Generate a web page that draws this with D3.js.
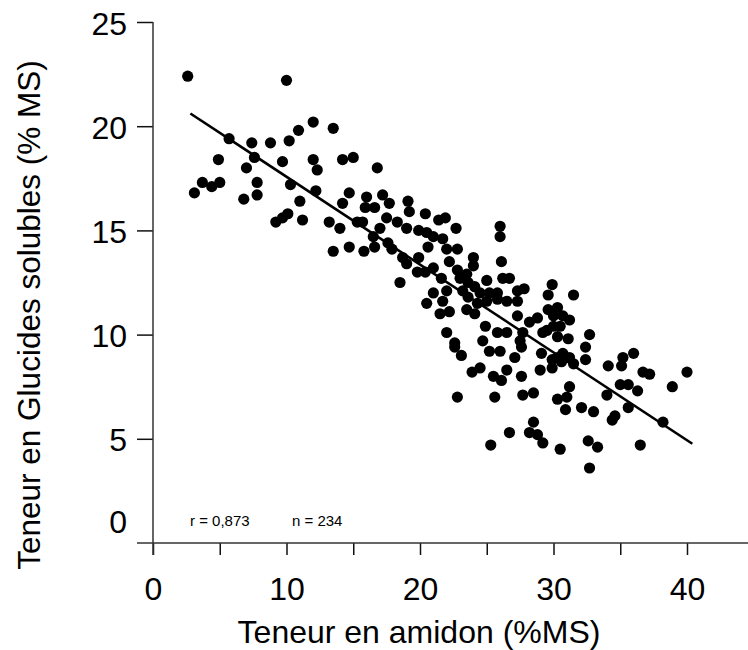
<!DOCTYPE html>
<html>
<head>
<meta charset="utf-8">
<script src="https://cdn.jsdelivr.net/npm/d3@7"></script>
<style>
  body { margin: 0; background: #fff; }
  svg text { font-family: "Liberation Sans", Arial, sans-serif; fill: #000; }
</style>
</head>
<body>
<svg id="chart" width="748" height="650"></svg>
<script>
// starch content (%DM) and soluble sugars (%DM)
const starch = [
  2.6, 10.0, 12.0, 13.5, 10.9, 10.2, 8.8, 7.4, 5.7, 4.9, 7.6, 9.7, 12.0, 12.3, 14.2, 15.0, 7.0, 3.7, 4.4, 5.0,
  3.1, 7.8, 10.3, 6.8, 7.8, 12.2, 14.7, 11.0, 14.2, 16.0, 15.9, 10.1, 9.7, 9.2, 11.2, 13.2, 14.0, 15.3, 15.7, 13.5,
  14.7, 15.8, 16.8, 17.2, 16.6, 17.7, 19.1, 19.2, 20.4, 21.4, 21.9, 22.7, 26.0, 26.0, 17.5, 18.3, 19.0, 19.9, 20.5, 21.0,
  21.7, 17.0, 16.5, 17.6, 16.6, 17.9, 20.6, 22.0, 22.8, 18.7, 19.9, 22.2, 24.0, 24.0, 26.1, 19.0, 19.8, 21.0, 20.4, 21.6,
  22.8, 23.0, 23.5, 23.6, 25.0, 26.2, 26.7, 18.5, 21.0, 22.0, 23.2, 24.1, 24.5, 25.2, 25.8, 27.3, 27.8, 20.5, 21.7, 23.6,
  24.3, 25.0, 25.8, 26.5, 27.3, 21.5, 22.2, 23.5, 24.1, 27.3, 28.8, 28.2, 29.6, 30.3, 22.0, 24.9, 25.8, 26.5, 24.7, 27.5,
  29.2, 30.0, 22.6, 22.6, 23.1, 25.2, 26.0, 27.1, 27.6, 29.1, 29.9, 23.9, 24.5, 25.5, 26.1, 26.5, 27.6, 29.0, 29.9, 22.8,
  25.6, 27.7, 28.5, 30.3, 28.5, 28.2, 28.8, 29.2, 26.7, 25.3, 30.5, 29.9, 29.6, 31.5, 30.0, 30.7, 31.2, 30.5, 29.5, 32.7,
  27.7, 30.3, 31.1, 32.4, 30.3, 30.7, 31.2, 32.4, 31.5, 30.6, 34.1, 35.2, 36.0, 35.1, 36.7, 37.2, 40.0, 38.9, 35.0, 35.6,
  36.3, 34.0, 31.2, 31.0, 30.9, 32.1, 33.0, 34.6, 34.4, 35.6, 38.2, 32.6, 33.3, 36.5, 32.7
];
const sugars = [
  22.4, 22.2, 20.2, 19.9, 19.8, 19.3, 19.2, 19.2, 19.4, 18.4, 18.5, 18.3, 18.4, 17.9, 18.4, 18.5, 18.0, 17.3, 17.1, 17.3,
  16.8, 17.3, 17.2, 16.5, 16.7, 16.9, 16.8, 16.4, 16.3, 16.6, 16.1, 15.8, 15.6, 15.4, 15.5, 15.4, 15.1, 15.4, 15.4, 14.0,
  14.2, 14.0, 18.0, 16.7, 16.1, 16.3, 16.4, 15.9, 15.8, 15.5, 15.6, 15.1, 15.2, 14.7, 15.6, 15.4, 15.1, 15.0, 14.9, 14.7,
  14.6, 15.1, 14.7, 14.4, 14.2, 14.1, 14.2, 14.1, 14.1, 13.7, 13.7, 13.5, 13.7, 13.3, 13.5, 13.4, 13.0, 13.2, 13.0, 12.7,
  13.1, 12.7, 12.9, 12.5, 12.6, 12.7, 12.7, 12.5, 12.0, 12.1, 12.1, 12.3, 12.0, 12.0, 12.0, 12.1, 12.2, 11.5, 11.6, 11.8,
  11.5, 11.6, 11.7, 11.6, 11.6, 11.0, 11.1, 11.2, 11.0, 10.9, 10.8, 10.6, 11.2, 11.3, 10.1, 10.4, 10.1, 10.1, 9.7, 9.7,
  10.1, 10.4, 9.6, 9.4, 9.0, 9.2, 9.2, 8.9, 9.4, 9.1, 8.8, 8.2, 8.4, 8.0, 7.8, 8.3, 8.0, 8.3, 8.4, 7.0,
  7.0, 7.1, 7.2, 6.9, 5.8, 5.3, 5.2, 4.8, 5.3, 4.7, 4.5, 12.4, 11.9, 11.9, 10.9, 10.9, 10.7, 10.4, 10.2, 10.0,
  10.1, 9.9, 9.8, 9.4, 8.9, 9.1, 8.9, 8.8, 8.6, 8.7, 8.5, 8.9, 9.1, 8.5, 8.2, 8.1, 8.2, 7.5, 7.6, 7.6,
  7.3, 7.1, 7.5, 7.0, 6.4, 6.5, 6.3, 6.1, 5.9, 6.5, 5.8, 4.9, 4.6, 4.7, 3.6
];

// fitted line
const fitIntercept = 21.79;
const fitSlope = -0.4215;
const fitRange = [2.8, 40.4];

const xTicks = [0, 5, 10, 15, 20, 25, 30, 35, 40];
const yTicks = [0, 5, 10, 15, 20, 25];
const statsLabels = ['r = 0,873', 'n = 234'];

const svg = d3.select('#chart');
const width = +svg.attr('width');

const x = d3.scaleLinear().domain([0, 40]).range([153, 687]);
const y = d3.scaleLinear().domain([0, 25]).range([543, 22]);

const axisColor = '#333';

// x axis
const xAxis = svg.append('g')
  .attr('transform', `translate(0,${y(0)})`)
  .call(d3.axisBottom(x)
    .tickValues(xTicks)
    .tickSize(12)
    .tickFormat(d => d % 10 === 0 ? d : ''));
xAxis.select('.domain').remove();
xAxis.selectAll('.tick line').attr('stroke', '#111').attr('stroke-width', 1.5);
xAxis.selectAll('.tick text')
  .attr('y', 57).attr('dy', 0)
  .style('font-size', '32px');
xAxis.append('line')
  .attr('x1', x(0) - 16).attr('x2', width)
  .attr('stroke', axisColor).attr('stroke-width', 1.5);

// y axis
const yAxis = svg.append('g')
  .attr('transform', `translate(${x(0)},0)`)
  .call(d3.axisLeft(y)
    .tickValues(yTicks)
    .tickSize(16));
yAxis.select('.domain').remove();
yAxis.selectAll('.tick line').attr('stroke', '#111').attr('stroke-width', 1.5);
yAxis.selectAll('.tick').filter(d => d === 0).select('line').remove();
yAxis.selectAll('.tick text')
  .attr('x', -26).attr('dy', '0.38em')
  .style('font-size', '32px');
yAxis.selectAll('.tick').filter(d => d === 0).select('text').attr('dy', '-0.32em');
yAxis.append('line')
  .attr('y1', y(25)).attr('y2', y(0) + 12)
  .attr('stroke', axisColor).attr('stroke-width', 1.5);

// axis titles
svg.append('text')
  .attr('x', 419).attr('y', 643)
  .attr('text-anchor', 'middle')
  .style('font-size', '32px')
  .text('Teneur en amidon (%MS)');

svg.append('text')
  .attr('transform', 'translate(40,315) rotate(-90)')
  .attr('text-anchor', 'middle')
  .style('font-size', '31.5px')
  .text('Teneur en Glucides solubles (% MS)');

// regression line
const line = d3.line()
  .x(d => x(d))
  .y(d => y(fitIntercept + fitSlope * d));
svg.append('path')
  .datum(fitRange)
  .attr('d', line)
  .attr('fill', 'none')
  .attr('stroke', '#000')
  .attr('stroke-width', 2.6);

// points
const points = starch.map((d, i) => ({ starch: d, sugars: sugars[i] }));
svg.append('g')
  .selectAll('circle')
  .data(points)
  .join('circle')
    .attr('cx', d => x(d.starch))
    .attr('cy', d => y(d.sugars))
    .attr('r', 5.6)
    .attr('fill', '#000');

// stats
svg.append('g')
  .selectAll('text')
  .data(statsLabels)
  .join('text')
    .attr('x', (d, i) => i === 0 ? 190 : 292)
    .attr('y', 526)
    .style('font-size', '15px')
    .text(d => d);
</script>
</body>
</html>
